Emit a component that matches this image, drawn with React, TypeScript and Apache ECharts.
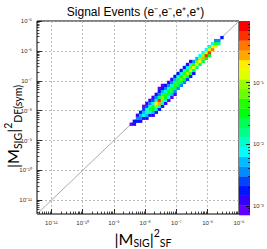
import React, { useEffect, useRef } from 'react';
import * as echarts from 'echarts';

// ---- axis ranges (log10 units) ----
const X_MIN = -11.46;
const X_MAX = -5;
const Y_MIN = -11.46;
const Y_MAX = -5;
const Z_MIN = -3.15;
const Z_MAX = 0;
const N_LEVELS = 20;
const CELL = 0.1;

// ---- tick labels (decades) ----
const xDecades = [-11, -10, -9, -8, -7, -6, -5];
const yDecades = [-11, -10, -9, -8, -7, -6, -5];
const zDecades = [-3, -2, -1];

// ---- palette (bottom -> top) ----
const palette = [
  '#6300ff', '#3300ff', '#0014ff', '#0044ff', '#008bff', '#00bbff', '#00fffc', '#00ffcc', '#00ff85', '#00ff55',
  '#00ff0e', '#22ff00', '#69ff00', '#99ff00', '#e0ff00', '#ffee00', '#ffa700', '#ff7700', '#ff3000', '#ff0000',
];

// ---- histogram columns: x low edge, y low edge of first cell, log10(content) per cell bottom->top ----
const colX = [
  -8.5, -8.4, -8.3, -8.2, -8.1, -8.0, -7.9, -7.8, -7.7, -7.6, -7.5, -7.4, -7.3, -7.2, -7.1,
  -7.0, -6.9, -6.8, -6.7, -6.6, -6.5, -6.4, -6.3, -6.2, -6.1, -6.0, -5.9, -5.8, -5.7, -5.6,
];
const colY0 = [
  -8.5, -8.5, -8.4, -8.4, -8.3, -8.3, -8.2, -8.2, -8.1, -8.0, -7.9, -7.8, -7.7, -7.6, -7.5,
  -7.3, -7.2, -7.1, -7.0, -6.9, -6.8, -6.6, -6.5, -6.4, -6.3, -6.2, -6.0, -5.9, -5.8, -5.6,
];
const colZ = [
  [-3.0],
  [-2.9, -2.7],
  [-2.7, -2.5, -2.9],
  [-2.9, -2.4, -2.3, -2.8],
  [-2.7, -2.2, -2.3, -2.6, -3.0],
  [-2.9, -2.3, -1.9, -2.2, -2.6, -2.9],
  [-2.7, -2.0, -1.6, -2.0, -2.5, -2.9],
  [-2.9, -2.3, -1.5, -1.4, -2.1, -2.6, -2.9],
  [-2.8, -2.0, -1.0, -0.8, -1.9, -2.5, -2.9],
  [-2.7, -1.9, -0.6, -0.2, -1.8, -2.4, -2.8, -3.0],
  [-2.8, -2.0, -1.2, -1.0, -1.8, -2.3, -2.7, -3.0],
  [-2.9, -2.1, -1.5, -1.4, -1.9, -2.4, -2.8],
  [-3.0, -2.2, -1.6, -1.5, -2.0, -2.5, -2.9],
  [-3.0, -2.3, -1.6, -1.4, -1.9, -2.4, -2.9],
  [-3.0, -2.4, -1.7, -1.4, -1.8, -2.3, -2.8],
  [-2.4, -1.7, -1.3, -1.6, -2.2, -2.8],
  [-2.4, -1.6, -1.2, -1.5, -2.1, -2.7],
  [-2.5, -1.6, -1.1, -1.4, -2.1, -2.8],
  [-2.6, -1.6, -1.0, -1.3, -2.2, -2.9],
  [-2.7, -1.7, -0.9, -1.2, -2.2, -2.9],
  [-2.8, -1.6, -0.9, -1.3, -2.4],
  [-1.8, -0.8, -1.2, -2.3],
  [-1.7, -0.7, -1.1, -2.2],
  [-1.6, -0.5, -1.0, -2.1],
  [-1.5, -0.3, -0.9, -2.1],
  [-1.5, -0.2, -0.8, -2.0],
  [-0.4, -0.7, -2.1],
  [-0.9, -1.3, -2.4],
  [-1.8, -2.4],
  [-2.8],
];

const supMap: Record<string, string> = {
  '-': '\u207B', '0': '\u2070', '1': '\u00B9', '2': '\u00B2', '3': '\u00B3', '4': '\u2074',
  '5': '\u2075', '6': '\u2076', '7': '\u2077', '8': '\u2078', '9': '\u2079',
};
const pow10 = (v: number) =>
  '10' + String(Math.round(v)).split('').map((c) => supMap[c] ?? c).join('');

function minorTicks(decs: number[], lo: number, hi: number) {
  const out: number[] = [];
  for (const d of decs) {
    for (let k = 2; k <= 9; k++) {
      const v = d + Math.log10(k);
      if (v > lo && v < hi) out.push(v);
    }
  }
  return out;
}

const levelStep = (Z_MAX - Z_MIN) / N_LEVELS;
function colorFor(z: number) {
  let i = Math.floor((z - Z_MIN) / levelStep);
  if (i < 0) i = 0;
  if (i > N_LEVELS - 1) i = N_LEVELS - 1;
  return palette[i];
}

const cells: number[][] = [];
colX.forEach((x, i) => {
  colZ[i].forEach((z, j) => {
    cells.push([x, +(colY0[i] + j * CELL).toFixed(3), z]);
  });
});

const tickFont = { fontFamily: 'Liberation Sans', fontSize: 6, color: '#333' };

export default function App() {
  const ref = useRef<HTMLDivElement>(null);
  useEffect(() => {
    if (!ref.current) return;
    const chart = echarts.init(ref.current, null, { renderer: 'svg' });
    const xMinor = minorTicks([-12, -11, -10, -9, -8, -7, -6], X_MIN, X_MAX);
    const yMinor = minorTicks([-12, -11, -10, -9, -8, -7, -6], Y_MIN, Y_MAX);
    const zMinor = minorTicks([-4, -3, -2, -1], Z_MIN, Z_MAX);

    const titleRich = {
      m: { fontSize: 16, fontFamily: 'Lato', lineHeight: 21, verticalAlign: 'middle', color: '#000' },
      s: { fontSize: 10.5, fontFamily: 'Lato', lineHeight: 11, verticalAlign: 'bottom', color: '#000' },
      p: { fontSize: 10.5, fontFamily: 'Lato', lineHeight: 11, verticalAlign: 'top', color: '#000' },
    };

    const option: any = {
      animation: false,
      backgroundColor: '#fff',
      grid: [
        { left: 37, top: 21, width: 202, height: 193, show: true, borderColor: '#000', borderWidth: 1, backgroundColor: 'transparent' },
        { left: 239, top: 21, width: 11, height: 194, show: false },
      ],
      xAxis: [
        {
          type: 'value', gridIndex: 0, min: X_MIN, max: X_MAX, position: 'bottom',
          axisLine: { show: false, onZero: false },
          axisTick: { show: true, inside: true, length: 5, customValues: xDecades, lineStyle: { color: '#000', width: 0.8 } },
          axisLabel: { show: true, customValues: xDecades, formatter: pow10, margin: 6, ...tickFont },
          splitLine: { show: true, lineStyle: { color: '#aaa', type: [2, 2], width: 0.8 } },
        },
        {
          type: 'value', gridIndex: 0, min: X_MIN, max: X_MAX, position: 'bottom',
          axisLine: { show: false, onZero: false },
          axisTick: { show: true, inside: true, length: 2.5, customValues: xMinor, lineStyle: { color: '#000', width: 0.7 } },
          axisLabel: { show: false },
          splitLine: { show: false },
        },
        { type: 'value', gridIndex: 1, min: 0, max: 1, show: false },
      ],
      yAxis: [
        {
          type: 'value', gridIndex: 0, min: Y_MIN, max: Y_MAX, position: 'left',
          axisLine: { show: false, onZero: false },
          axisTick: { show: true, inside: true, length: 5, customValues: yDecades, lineStyle: { color: '#000', width: 0.8 } },
          axisLabel: { show: true, customValues: yDecades, formatter: pow10, margin: 5, ...tickFont },
          splitLine: { show: true, lineStyle: { color: '#aaa', type: [2, 2], width: 0.8 } },
        },
        {
          type: 'value', gridIndex: 0, min: Y_MIN, max: Y_MAX, position: 'left',
          axisLine: { show: false, onZero: false },
          axisTick: { show: true, inside: true, length: 2.5, customValues: yMinor, lineStyle: { color: '#000', width: 0.7 } },
          axisLabel: { show: false },
          splitLine: { show: false },
        },
        {
          type: 'value', gridIndex: 1, min: Z_MIN, max: Z_MAX, position: 'right', z: 10,
          axisLine: { show: false, onZero: false },
          axisTick: { show: true, inside: true, length: 4, customValues: zDecades, lineStyle: { color: '#000', width: 0.8 } },
          axisLabel: { show: true, customValues: zDecades, formatter: pow10, margin: 3, ...tickFont },
          splitLine: { show: false },
        },
        {
          type: 'value', gridIndex: 1, min: Z_MIN, max: Z_MAX, position: 'right', z: 10,
          axisLine: { show: false, onZero: false },
          axisTick: { show: true, inside: true, length: 2, customValues: zMinor, lineStyle: { color: '#000', width: 0.7 } },
          axisLabel: { show: false },
          splitLine: { show: false },
        },
      ],
      graphic: [
        {
          type: 'text', x: 135.5, y: 12,
          style: {
            text: 'Signal Events (e\u207B,e\u207B,e\u207A,e\u207A)',
            fontFamily: 'Liberation Sans', fontSize: 12, fill: '#000', align: 'center', verticalAlign: 'middle',
          },
        },
        {
          type: 'text', x: 143, y: 238,
          style: {
            text: '{m||M}{s|SIG}{m||}{p|2}{s|SF}', rich: titleRich, align: 'center', verticalAlign: 'middle',
          },
        },
        {
          type: 'text', x: 12.5, y: 126.5, rotation: Math.PI / 2,
          style: {
            text: '{m||M}{s|SIG}{m||}{p|2}{s|DF(sym)}', rich: titleRich, align: 'center', verticalAlign: 'middle',
          },
        },
      ],
      series: [
        {
          type: 'line', xAxisIndex: 0, yAxisIndex: 0, silent: true, symbol: 'none', z: 1,
          data: [[X_MIN, Y_MIN], [X_MAX, Y_MAX]],
          lineStyle: { color: '#888', width: 0.7 },
        },
        {
          type: 'custom', xAxisIndex: 0, yAxisIndex: 0, silent: true, z: 3,
          data: cells,
          renderItem: (params: any, api: any) => {
            const x = api.value(0);
            const y = api.value(1);
            const z = api.value(2);
            const p0 = api.coord([x, y]);
            const p1 = api.coord([x + CELL, y + CELL]);
            return {
              type: 'rect',
              shape: { x: p0[0], y: p1[1], width: p1[0] - p0[0] + 0.3, height: p0[1] - p1[1] + 0.3 },
              style: { fill: colorFor(z) },
            };
          },
        },
        {
          type: 'custom', xAxisIndex: 2, yAxisIndex: 2, silent: true, z: 3,
          data: palette.map((_, i) => [i]),
          renderItem: (params: any, api: any) => {
            const i = api.value(0);
            const lo = Z_MIN + i * levelStep;
            const hi = lo + levelStep;
            const p0 = api.coord([0, lo]);
            const p1 = api.coord([1, hi]);
            return {
              type: 'rect',
              shape: { x: p0[0], y: p1[1], width: p1[0] - p0[0], height: p0[1] - p1[1] + 0.3 },
              style: { fill: palette[i] },
            };
          },
        },
      ],
    };
    chart.setOption(option);
    return () => chart.dispose();
  }, []);
  return (
    <div
      ref={ref}
      style={{ position: 'absolute', left: 0, top: 0, width: 267, height: 249, background: '#fff' }}
    />
  );
}
